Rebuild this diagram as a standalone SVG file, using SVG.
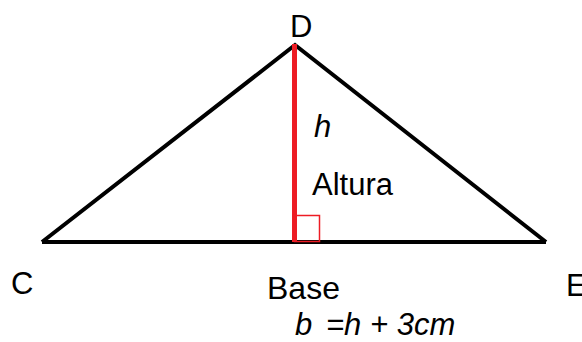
<svg xmlns="http://www.w3.org/2000/svg" width="582" height="342" viewBox="0 0 582 342">
<style>
.t{font-family:"Liberation Sans",Arial,sans-serif;font-size:31px;fill:#000}
.i{font-style:italic}
.blk{stroke:#000;stroke-width:4;fill:none;stroke-linejoin:miter}
.red{stroke:#ED1C24;fill:none}
</style>
<rect width="582" height="342" fill="#fff"/>
<g id="triangle">
<polyline class="blk" points="42,242 295,45 546,242"/>
<line class="blk" x1="42" y1="242" x2="546" y2="242"/>
</g>
<g id="altura">
<line class="red" x1="294.5" y1="44" x2="294.5" y2="242" stroke-width="5"/>
<rect class="red" x="294.5" y="215.5" width="25" height="26" stroke-width="1.5"/>
</g>
<g id="labels">
<text class="t" x="290" y="37">D</text>
<text class="t" x="11" y="294">C</text>
<text class="t" x="566" y="296">E</text>
<text class="t i" x="314" y="137">h</text>
<text class="t" x="312" y="195">Altura</text>
<text class="t" x="267" y="299" style="font-size:32px">Base</text>
<text class="t i" x="295" y="335" style="font-size:31px">b<tspan x="326">=h + 3cm</tspan></text>
</g>
</svg>
